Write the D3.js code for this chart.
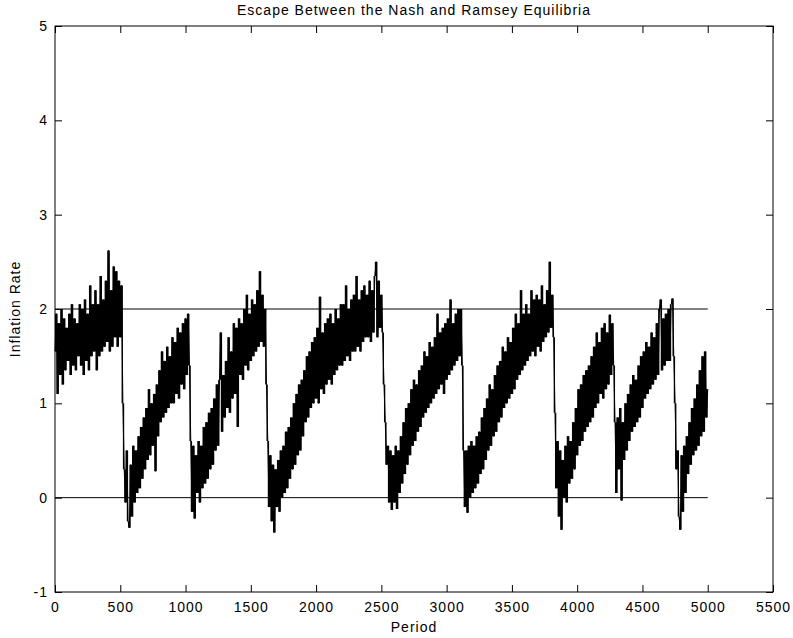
<!DOCTYPE html>
<meta charset="utf-8">
<script src="https://d3js.org/d3.v7.min.js"></script>
<style>
  body { margin: 0; background: #fff; }
  text { font-family: "Liberation Sans", Arial, sans-serif; fill: #000; }
</style>
<div id="chart"></div>
<script>

// simulated inflation, one reading every 10 periods (0..5000)
var step = 10;
var inflation = [
  // 0 - 490
  1.55, 1.95, 1.10, 1.85, 1.30, 2.00, 1.20, 1.90, 1.35, 1.80,
  1.45, 1.95, 1.30, 2.05, 1.40, 1.90, 1.35, 1.85, 1.50, 2.05,
  1.40, 2.00, 1.30, 2.10, 1.45, 1.95, 1.35, 2.25, 1.50, 2.05,
  1.55, 2.20, 1.35, 2.05, 1.50, 2.35, 1.55, 2.10, 1.60, 2.30,
  1.65, 2.62, 1.55, 2.20, 1.60, 2.45, 1.70, 2.40, 1.60, 2.30,
  // 500 - 990
  1.70, 2.25, 1.00, 0.30, -0.05, 0.50, -0.25, -0.32, 0.35, -0.20,
  0.55, -0.05, 0.50, 0.05, 0.65, 0.10, 0.75, 0.20, 0.85, 0.30,
  0.95, 0.40, 1.15, 0.45, 1.00, 0.55, 1.10, 0.28, 1.20, 0.65,
  1.35, 0.80, 1.55, 0.85, 1.45, 0.90, 1.60, 0.95, 1.50, 1.00,
  1.70, 1.00, 1.65, 1.10, 1.80, 1.05, 1.75, 1.20, 1.85, 1.15,
  // 1000 - 1490
  1.90, 1.30, 1.95, 1.40, 0.60, -0.15, 0.55, -0.22, 0.45, 0.05,
  0.60, -0.05, 0.55, 0.10, 0.75, 0.15, 0.80, 0.20, 0.90, 0.30,
  0.95, 0.35, 1.05, 0.50, 1.20, 0.55, 1.25, 1.75, 0.70, 1.30,
  0.85, 1.45, 0.95, 1.70, 0.90, 1.55, 1.05, 1.85, 1.10, 1.80,
  0.75, 1.90, 1.30, 1.85, 1.25, 2.00, 1.40, 2.15, 1.35, 1.95,
  // 1500 - 1990
  1.45, 2.10, 1.50, 2.05, 1.55, 2.20, 1.60, 2.40, 1.65, 2.15,
  1.60, 2.00, 1.20, 0.60, -0.10, 0.45, -0.25, 0.35, -0.37, 0.30,
  -0.10, 0.40, -0.15, 0.50, 0.00, 0.55, 0.05, 0.70, 0.10, 0.75,
  0.20, 0.85, 0.30, 1.00, 0.35, 1.10, 0.45, 1.20, 0.50, 1.25,
  0.65, 1.35, 0.80, 1.50, 0.85, 1.55, 0.95, 1.65, 1.00, 1.70,
  // 2000 - 2490
  1.05, 1.80, 1.00, 2.13, 1.15, 1.75, 1.10, 1.85, 1.20, 1.90,
  1.25, 1.95, 1.20, 1.85, 1.30, 2.00, 1.35, 1.90, 1.40, 2.05,
  1.40, 2.05, 1.45, 2.25, 1.50, 2.00, 1.45, 2.10, 1.55, 2.15,
  1.55, 2.35, 1.60, 2.10, 1.55, 2.20, 1.65, 2.25, 1.70, 2.15,
  1.70, 2.30, 1.65, 2.20, 1.75, 2.35, 2.50, 1.70, 2.30, 1.80,
  // 2500 - 2990
  2.15, 1.75, 1.20, 0.80, 0.35, 0.55, -0.05, 0.50, -0.13, 0.45,
  -0.05, 0.55, -0.12, 0.50, 0.05, 0.65, 0.15, 0.80, 0.25, 0.95,
  0.35, 1.00, 0.45, 1.15, 0.55, 1.25, 0.60, 1.20, 0.70, 1.35,
  0.75, 1.40, 0.85, 1.55, 0.90, 1.50, 0.95, 1.65, 1.00, 1.60,
  1.05, 1.70, 1.10, 1.95, 1.15, 1.75, 1.20, 1.80, 1.10, 1.85,
  // 3000 - 3490
  1.25, 1.90, 1.30, 2.10, 1.35, 1.85, 1.40, 1.95, 1.45, 2.00,
  1.50, 2.00, 1.40, 0.50, -0.10, 0.50, -0.16, 0.55, 0.00, 0.60,
  0.05, 0.55, 0.10, 0.65, 0.15, 0.70, 0.25, 0.85, 0.30, 0.95,
  0.40, 1.05, 0.50, 1.20, 0.55, 1.15, 0.65, 1.30, 0.70, 1.40,
  0.80, 1.45, 0.85, 1.60, 0.95, 1.55, 1.00, 1.70, 1.05, 1.65,
  // 3500 - 3990
  1.10, 1.80, 1.15, 1.95, 1.25, 1.85, 1.30, 2.20, 1.35, 1.95,
  1.40, 2.05, 1.45, 1.95, 1.50, 2.20, 1.55, 2.10, 1.50, 2.15,
  1.60, 2.10, 1.55, 2.25, 1.65, 2.05, 1.70, 2.20, 1.75, 2.50,
  1.80, 2.15, 1.70, 0.90, 0.10, 0.60, -0.20, 0.50, -0.34, 0.40,
  0.00, 0.55, -0.05, 0.65, 0.15, 0.60, 0.20, 0.80, 0.30, 0.95,
  // 4000 - 4490
  0.45, 1.15, 0.55, 1.20, 0.60, 1.30, 0.70, 1.35, 0.75, 1.40,
  0.80, 1.50, 0.85, 1.60, 0.95, 1.75, 1.00, 1.65, 1.10, 1.80,
  1.05, 1.85, 1.15, 1.75, 1.20, 1.94, 1.30, 1.85, 1.40, 0.80,
  0.05, 0.85, 0.30, 0.95, -0.03, 0.80, 0.40, 1.00, 0.50, 1.10,
  0.60, 1.20, 0.70, 1.30, 0.75, 1.25, 0.80, 1.40, 0.85, 1.50,
  // 4500 - 5000
  0.95, 1.55, 1.05, 1.65, 1.10, 1.60, 1.15, 1.75, 1.20, 1.70,
  1.25, 1.85, 1.30, 2.00, 2.10, 1.35, 1.90, 1.40, 1.95, 1.45,
  2.00, 1.45, 2.05, 2.11, 1.50, 1.00, 0.30, 0.50, -0.20, -0.34,
  0.45, -0.15, 0.55, 0.05, 0.65, 0.25, 0.80, 0.35, 0.95, 0.45,
  1.05, 0.50, 1.20, 0.55, 1.35, 0.65, 1.50, 0.70, 1.55, 0.85,
  1.15
];

// the two equilibria drawn as flat reference lines
var equilibria = [0, 2];
var eqSpan = [0, 5000];

var xTicks = [0, 500, 1000, 1500, 2000, 2500, 3000, 3500, 4000, 4500, 5000, 5500];
var yTicks = [-1, 0, 1, 2, 3, 4, 5];

var titleText = "Escape Between the Nash and Ramsey Equilibria";
var xLabel = "Period";
var yLabel = "Inflation Rate";

// layout
var W = 793, H = 638;
var margin = {top: 26, right: 20, bottom: 46, left: 55};
var width = W - margin.left - margin.right,
    height = H - margin.top - margin.bottom;

var svg = d3.select("#chart")
  .append("svg")
    .attr("width", W)
    .attr("height", H);

var g = svg.append("g")
    .attr("transform", "translate(" + margin.left + "," + margin.top + ")");

var x = d3.scaleLinear().domain([0, 5500]).range([0, width]);
var y = d3.scaleLinear().domain([-1, 5]).range([height, 0]);

// axes, MATLAB style: ticks inside, on all four sides
var tk = 7;
var fmt = function(d) { return String(d); };   // plain hyphen for -1
var axB = g.append("g")
    .attr("transform", "translate(0," + height + ")")
    .call(d3.axisBottom(x).tickValues(xTicks).tickFormat(fmt).tickSizeInner(-tk).tickSizeOuter(0).tickPadding(10));
var axT = g.append("g")
    .call(d3.axisTop(x).tickValues(xTicks).tickSizeInner(-tk).tickSizeOuter(0).tickFormat(""));
var axL = g.append("g")
    .call(d3.axisLeft(y).tickValues(yTicks).tickFormat(fmt).tickSizeInner(-tk).tickSizeOuter(0).tickPadding(7));
var axR = g.append("g")
    .attr("transform", "translate(" + width + ",0)")
    .call(d3.axisRight(y).tickValues(yTicks).tickSizeInner(-tk).tickSizeOuter(0).tickFormat(""));

[axB, axT, axL, axR].forEach(function(a) {
  a.select(".domain").remove();
  a.selectAll("line").attr("stroke", "#000");
  a.selectAll("text")
    .style("font-family", "'Liberation Sans', Arial, sans-serif")
    .style("font-size", "14px")
    .style("letter-spacing", "1px")
    .attr("fill", "#000");
});

// reference lines
g.selectAll(".eq")
  .data(equilibria)
  .enter().append("line")
    .attr("class", "eq")
    .attr("x1", x(eqSpan[0]))
    .attr("x2", x(eqSpan[1]))
    .attr("y1", function(d) { return y(d); })
    .attr("y2", function(d) { return y(d); })
    .attr("stroke", "#000")
    .attr("stroke-width", 1);

// solid core: each segment's vertical range as a thin column,
// so the noisy series reads as a dense band like the original 5000 points
var band = d3.area()
    .curve(d3.curveStepAfter)
    .x(function(d, i) { return x(i * step); })
    .y0(function(d, i, arr) { return y(Math.min(d, arr[Math.min(i + 1, arr.length - 1)])); })
    .y1(function(d, i, arr) { return y(Math.max(d, arr[Math.min(i + 1, arr.length - 1)])); });

g.append("path")
    .datum(inflation)
    .attr("fill", "#000")
    .attr("d", band);

// the series
var line = d3.line()
    .x(function(d, i) { return x(i * step); })
    .y(function(d) { return y(d); });

g.append("path")
    .datum(inflation)
    .attr("fill", "none")
    .attr("stroke", "#000")
    .attr("stroke-width", 1)
    .attr("stroke-linejoin", "bevel")
    .attr("d", line);

// box
g.append("rect")
    .attr("x", 0).attr("y", 0)
    .attr("width", width).attr("height", height)
    .attr("fill", "none")
    .attr("stroke", "#000")
    .attr("stroke-width", 1);

// labels
svg.append("text")
    .attr("x", margin.left + width / 2)
    .attr("y", 15)
    .attr("text-anchor", "middle")
    .style("font-size", "14px")
    .style("letter-spacing", "1px")
    .text(titleText);

svg.append("text")
    .attr("x", margin.left + width / 2)
    .attr("y", 632)
    .attr("text-anchor", "middle")
    .style("font-size", "14px")
    .style("letter-spacing", "1px")
    .text(xLabel);

svg.append("text")
    .attr("transform", "translate(20," + (margin.top + height / 2) + ") rotate(-90)")
    .attr("text-anchor", "middle")
    .style("font-size", "14px")
    .style("letter-spacing", "1px")
    .text(yLabel);

</script>
